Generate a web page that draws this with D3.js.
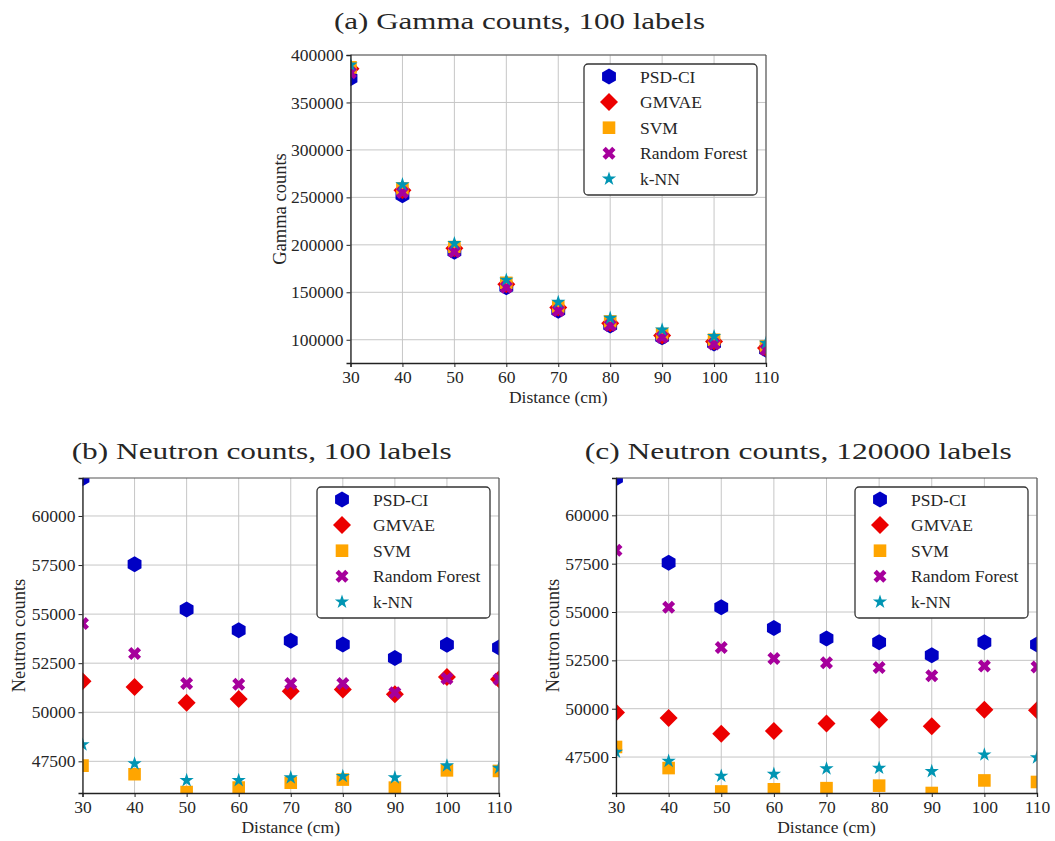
<!DOCTYPE html>
<html><head><meta charset="utf-8">
<script src="https://cdn.jsdelivr.net/npm/d3@7"></script>
<style>
body{margin:0;background:#fff}
text{font-family:"Liberation Serif","Times New Roman",serif;fill:#262626}
</style>
</head><body>
<svg id="chart" width="1055" height="841"></svg>
<script>
// ---------------- data ----------------
const distances = [30, 40, 50, 60, 70, 80, 90, 100, 110];
const methods = ["PSD-CI", "GMVAE", "SVM", "Random Forest", "k-NN"];
const xTicks = [30, 40, 50, 60, 70, 80, 90, 100, 110];
const gammaTicks = [100000, 150000, 200000, 250000, 300000, 350000, 400000];
const neutronTicks = [47500, 50000, 52500, 55000, 57500, 60000];
const titles = ["(a) Gamma counts, 100 labels", "(b) Neutron counts, 100 labels", "(c) Neutron counts, 120000 labels"];

// (a) Gamma counts, 100 labels
const gammaPSD   = [375500, 252300, 192800, 155300, 130500, 115100, 102500, 96100, 89500];
const gammaGMVAE = [385400, 257600, 196300, 158500, 134000, 117500, 104600, 98200, 91200];
const gammaSVM   = [387000, 259300, 197700, 159900, 135000, 119300, 106000, 100000, 93000];
const gammaRF    = [381200, 255100, 192800, 155300, 130500, 115100, 102500, 95400, 89500];
const gammaKNN   = [389600, 263500, 201500, 163000, 139600, 122800, 110500, 103500, 96500];

// (b) Neutron counts, 100 labels
const n100PSD   = [61920, 57540, 55240, 54180, 53640, 53450, 52760, 53440, 53300];
const n100GMVAE = [51580, 51290, 50490, 50680, 51070, 51160, 50920, 51800, 51680];
const n100SVM   = [47280, 46840, 45940, 46160, 46410, 46570, 46160, 47040, 47010];
const n100RF    = [54520, 52990, 51460, 51430, 51460, 51460, 50990, 51720, 51680];
const n100KNN   = [48350, 47380, 46530, 46530, 46670, 46740, 46670, 47280, 47160];

// (c) Neutron counts, 120000 labels
const n120kPSD   = [61920, 57550, 55240, 54170, 53630, 53430, 52770, 53430, 53320];
const n120kGMVAE = [49800, 49520, 48710, 48850, 49230, 49430, 49090, 49950, 49920];
const n120kSVM   = [48020, 46930, 45720, 45830, 45890, 46020, 45640, 46290, 46210];
const n120kRF    = [58200, 55240, 53160, 52590, 52370, 52130, 51700, 52210, 52160];
const n120kKNN   = [47760, 47290, 46520, 46620, 46900, 46930, 46760, 47620, 47470];

// ---------------- styles ----------------
const colors = ["#0000c4", "#ec0000", "#ffa500", "#a6009c", "#0095b3"];
const shapes = ["hexagon", "diamond", "square", "xfilled", "star"];

function markerPath(shape) {
  const p = d3.path();
  if (shape === "hexagon") {
    const r = 8;
    for (let i = 0; i < 6; i++) {
      const a = -Math.PI / 2 + i * Math.PI / 3;
      i ? p.lineTo(r * Math.cos(a), r * Math.sin(a)) : p.moveTo(r * Math.cos(a), r * Math.sin(a));
    }
  } else if (shape === "diamond") {
    const r = 9;
    p.moveTo(0, -r); p.lineTo(r, 0); p.lineTo(0, r); p.lineTo(-r, 0);
  } else if (shape === "square") {
    const r = 6.3;
    p.rect(-r, -r, 2 * r, 2 * r);
  } else if (shape === "xfilled") {
    const s = 13;
    const v = [[0.25,0],[0.5,0.25],[0.25,0.5],[0,0.25],[-0.25,0.5],[-0.5,0.25],[-0.25,0],[-0.5,-0.25],[-0.25,-0.5],[0,-0.25],[0.25,-0.5],[0.5,-0.25]];
    v.forEach((q, i) => i ? p.lineTo(q[0] * s, q[1] * s) : p.moveTo(q[0] * s, q[1] * s));
  } else if (shape === "star") {
    const R = 7.5, r = R * 0.381966;
    for (let i = 0; i < 10; i++) {
      const a = -Math.PI / 2 + i * Math.PI / 5;
      const rr = i % 2 ? r : R;
      i ? p.lineTo(rr * Math.cos(a), rr * Math.sin(a)) : p.moveTo(rr * Math.cos(a), rr * Math.sin(a));
    }
  }
  p.closePath();
  return p.toString();
}

// ---------------- panels ----------------
const panels = [
  { id: "a", x0: 350.5, x1: 766, y0: 55, y1: 363, yDomain: [75500, 400000], yTicks: gammaTicks,
    ylabel: "Gamma counts", ylabelX: 280, title: titles[0], titleCx: 519.5, titleW: 371, titleY: 29,
    series: [gammaPSD, gammaGMVAE, gammaSVM, gammaRF, gammaKNN] },
  { id: "b", x0: 82.5, x1: 499, y0: 478, y1: 793, yDomain: [45886, 61935], yTicks: neutronTicks,
    ylabel: "Neutron counts", ylabelX: 19, title: titles[1], titleCx: 261.7, titleW: 380, titleY: 459,
    series: [n100PSD, n100GMVAE, n100SVM, n100RF, n100KNN] },
  { id: "c", x0: 616, x1: 1037, y0: 478, y1: 793, yDomain: [45640, 61930], yTicks: neutronTicks,
    ylabel: "Neutron counts", ylabelX: 553, title: titles[2], titleCx: 798.3, titleW: 427, titleY: 459,
    series: [n120kPSD, n120kGMVAE, n120kSVM, n120kRF, n120kKNN] }
];

const svg = d3.select("#chart");
svg.append("rect").attr("width", 1055).attr("height", 841).attr("fill", "#fff");

panels.forEach(P => {
  const x = d3.scaleLinear().domain([30, 110]).range([P.x0, P.x1]);
  const y = d3.scaleLinear().domain(P.yDomain).range([P.y1, P.y0]);
  const g = svg.append("g");

  // title
  g.append("text").attr("x", P.titleCx).attr("y", P.titleY)
    .attr("text-anchor", "middle").attr("font-size", 23)
    .attr("textLength", P.titleW).attr("lengthAdjust", "spacingAndGlyphs")
    .text(P.title);

  // grid
  const grid = g.append("g").attr("stroke", "#c6c6c6").attr("stroke-width", 1);
  xTicks.forEach(t => grid.append("line").attr("x1", x(t)).attr("x2", x(t)).attr("y1", P.y0).attr("y2", P.y1));
  P.yTicks.forEach(t => grid.append("line").attr("x1", P.x0).attr("x2", P.x1).attr("y1", y(t)).attr("y2", y(t)));

  // clip
  const cid = "clip-" + P.id;
  svg.append("clipPath").attr("id", cid).append("rect")
    .attr("x", P.x0).attr("y", P.y0).attr("width", P.x1 - P.x0).attr("height", P.y1 - P.y0);

  // markers
  const mg = g.append("g").attr("clip-path", `url(#${cid})`);
  P.series.forEach((vals, si) => {
    mg.append("g").selectAll("path").data(vals).join("path")
      .attr("d", markerPath(shapes[si]))
      .attr("fill", colors[si])
      .attr("transform", (v, i) => `translate(${x(distances[i])},${y(v)})`);
  });

  // top/right spines
  g.append("line").attr("x1", P.x0).attr("x2", P.x1).attr("y1", P.y0).attr("y2", P.y0).attr("stroke", "#555").attr("stroke-width", 1.1);
  g.append("line").attr("x1", P.x1).attr("x2", P.x1).attr("y1", P.y0).attr("y2", P.y1).attr("stroke", "#555").attr("stroke-width", 1.1);

  // axes
  const xAxis = d3.axisBottom(x).tickValues(xTicks).tickSize(4).tickPadding(4).tickFormat(d3.format("d"));
  const yAxis = d3.axisLeft(y).tickValues(P.yTicks).tickSize(4).tickPadding(3).tickFormat(d3.format("d"));
  const gx = g.append("g").attr("transform", `translate(0,${P.y1})`).call(xAxis);
  const gy = g.append("g").attr("transform", `translate(${P.x0},0)`).call(yAxis);
  [gx, gy].forEach(a => {
    a.attr("font-family", null);
    a.select(".domain").attr("stroke", "#222").attr("stroke-width", 1.3);
    a.selectAll(".tick line").attr("stroke", "#222").attr("stroke-width", 1);
    a.selectAll(".tick text").attr("font-size", 17.5).attr("fill", "#262626");
  });
  gx.selectAll(".tick text").attr("dy", "0.66em");

  // axis labels
  g.append("text").attr("x", (P.x0 + P.x1) / 2).attr("y", P.y1 + 40)
    .attr("text-anchor", "middle").attr("font-size", 17.5).text("Distance (cm)");
  g.append("text").attr("transform", `translate(${P.ylabelX},${(P.y0 + P.y1) / 2}) rotate(-90)`)
    .attr("text-anchor", "middle").attr("dy", "0.35em").attr("font-size", 18.5).text(P.ylabel);

  // legend
  const lw = 173, lh = 131;
  const lx = P.x1 - 9 - lw, ly = P.y0 + 9;
  const lg = g.append("g").attr("transform", `translate(${lx},${ly})`);
  lg.append("rect").attr("width", lw).attr("height", lh).attr("rx", 4)
    .attr("fill", "#fff").attr("stroke", "#333").attr("stroke-width", 1.3);
  methods.forEach((m, i) => {
    const ry = 12.5 + i * 25.6;
    lg.append("path").attr("d", markerPath(shapes[i])).attr("fill", colors[i])
      .attr("transform", `translate(25,${ry})`);
    lg.append("text").attr("x", 56).attr("y", ry).attr("dy", "0.35em")
      .attr("font-size", 17.5).text(m);
  });
});
</script>
</body></html>
